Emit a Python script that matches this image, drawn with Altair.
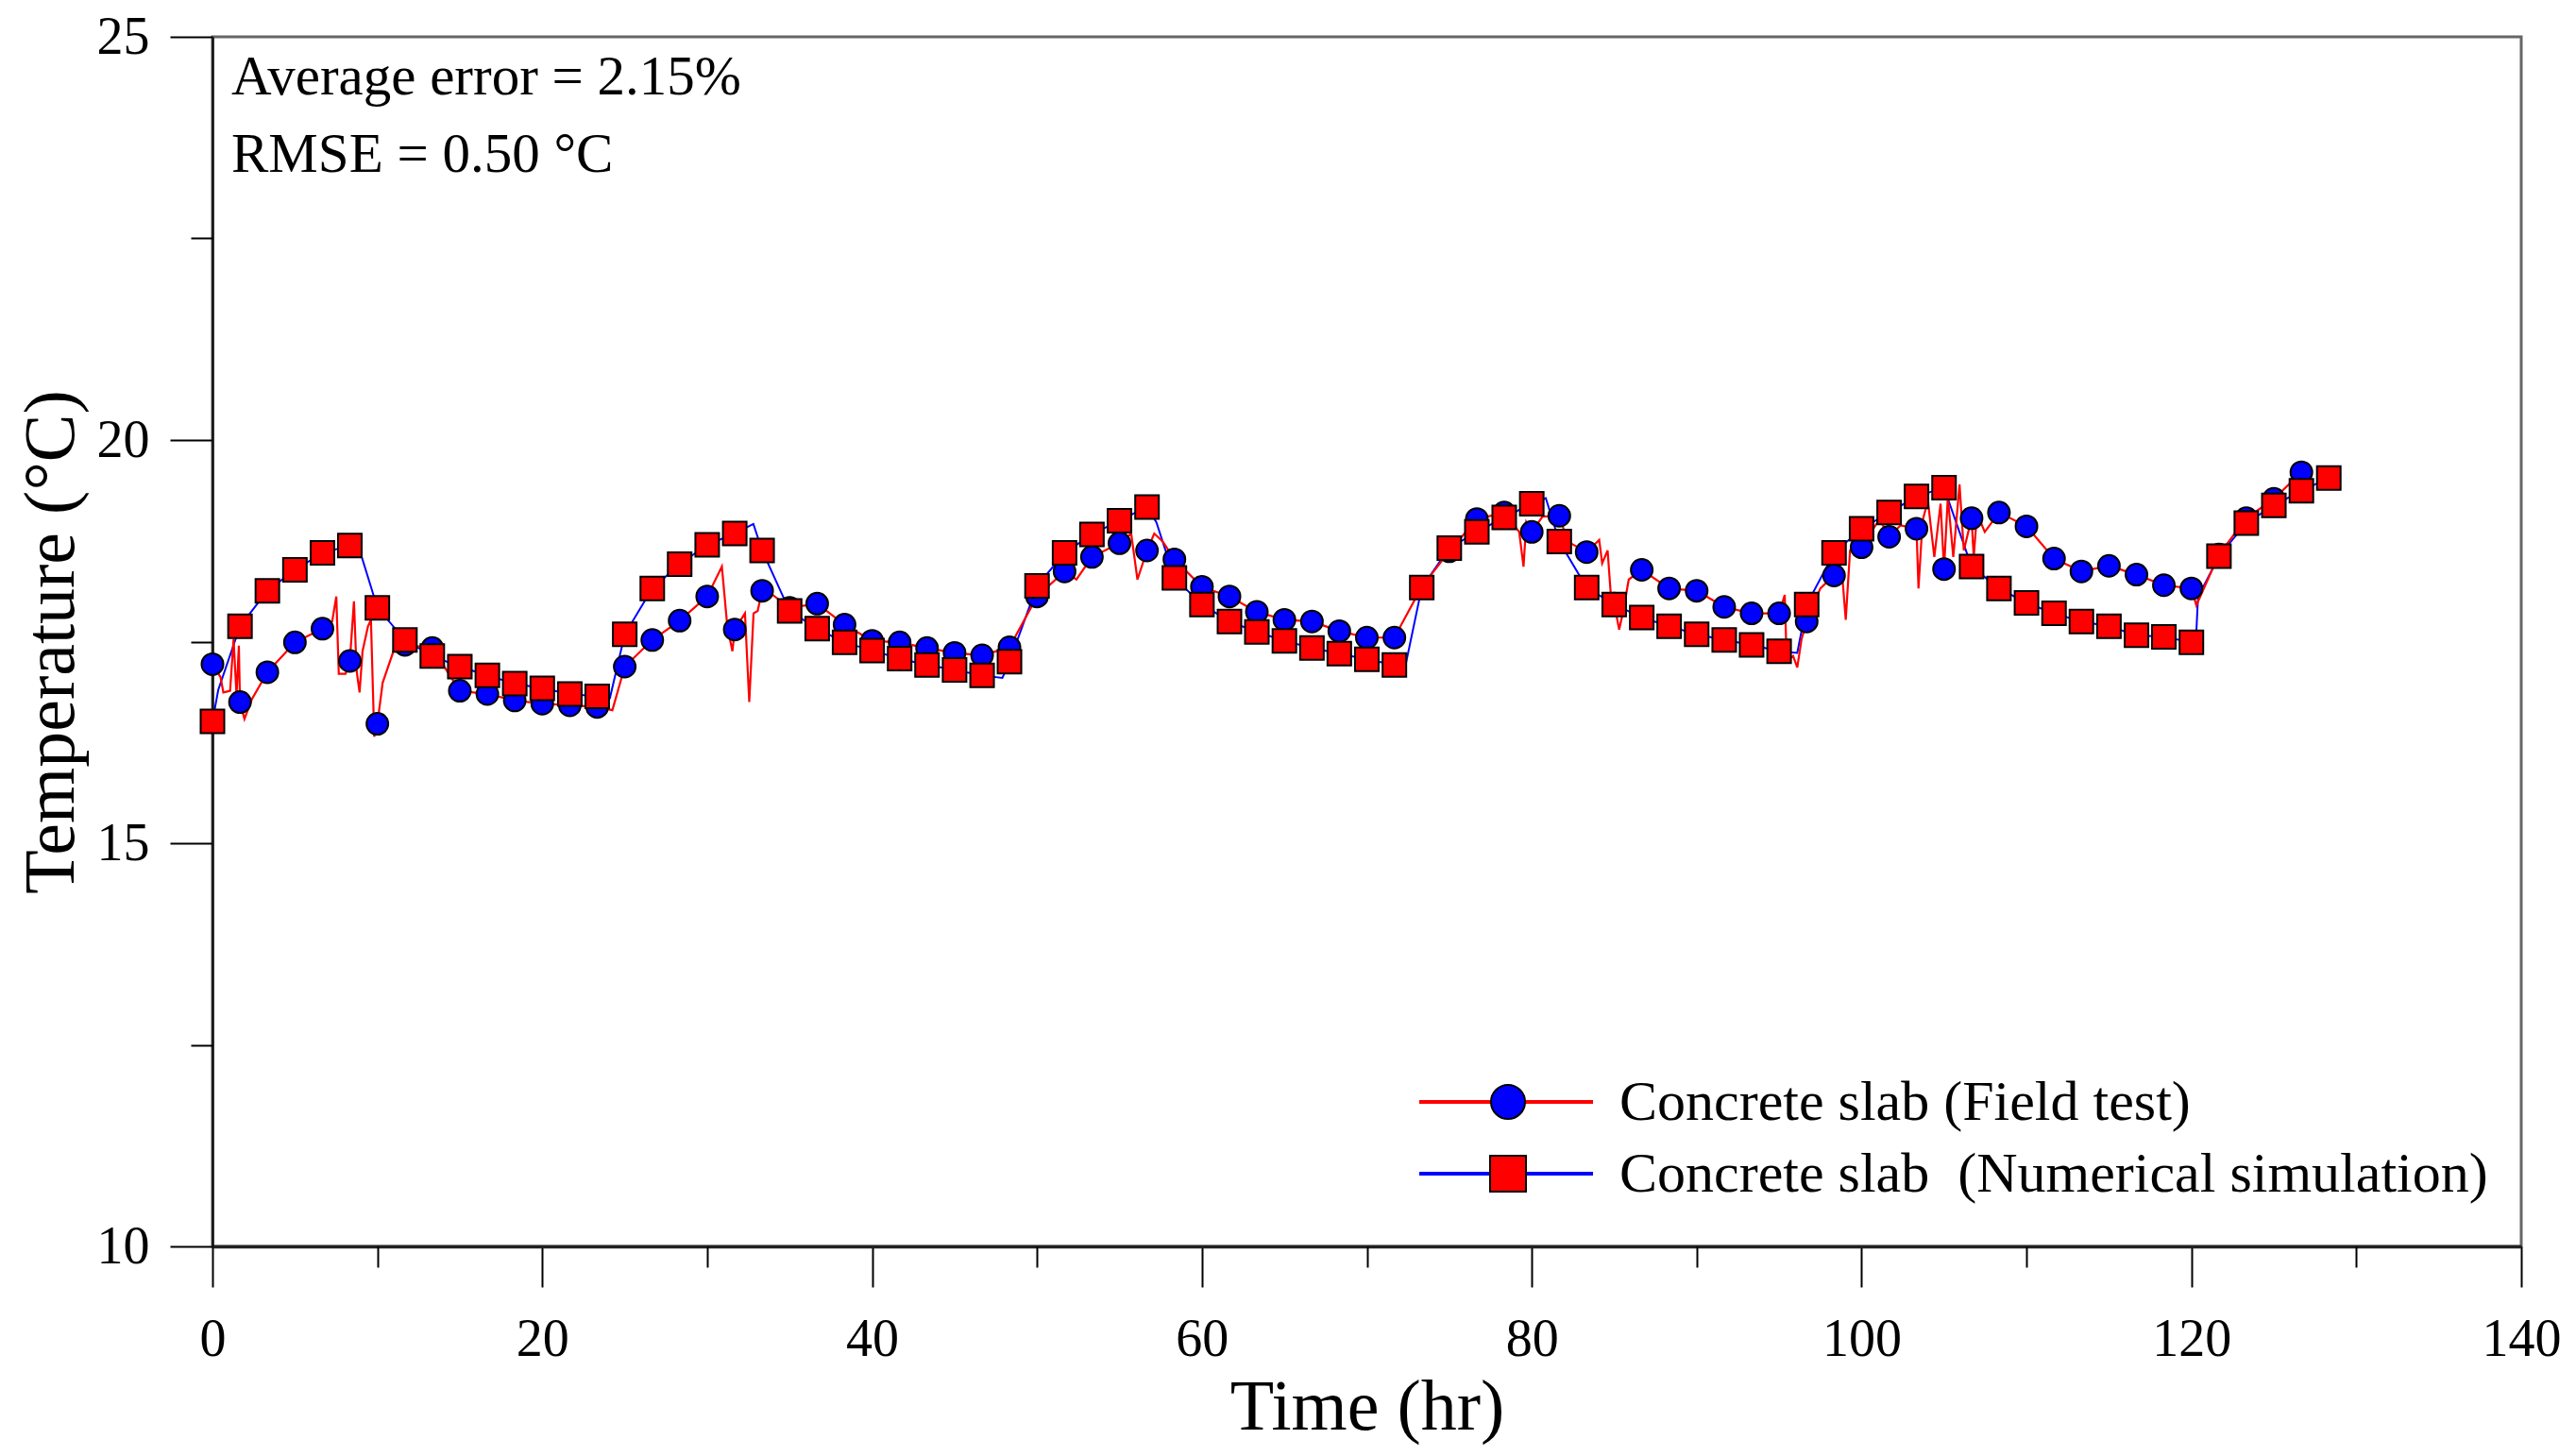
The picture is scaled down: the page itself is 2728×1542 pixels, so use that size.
import altair as alt
import pandas as pd

# ---------------- data ----------------
marker_t = [0.0, 1.67, 3.33, 5.0, 6.67, 8.33, 10.0, 11.67, 13.33, 15.0,
            16.67, 18.33, 20.0, 21.67, 23.33, 25.0, 26.67, 28.33, 30.0, 31.67,
            33.33, 35.0, 36.67, 38.33, 40.0, 41.67, 43.33, 45.0, 46.67, 48.33,
            50.0, 51.67, 53.33, 55.0, 56.67, 58.33, 60.0, 61.67, 63.33, 65.0,
            66.67, 68.33, 70.0, 71.67, 73.33, 75.0, 76.67, 78.33, 80.0, 81.67,
            83.33, 85.0, 86.67, 88.33, 90.0, 91.67, 93.33, 95.0, 96.67, 98.33,
            100.0, 101.67, 103.33, 105.0, 106.67, 108.33, 110.0, 111.67, 113.33, 115.0,
            116.67, 118.33, 120.0, 121.67, 123.33, 125.0, 126.67, 128.33]

field_T = [17.22, 16.75, 17.12, 17.49, 17.66, 17.26, 16.48, 17.46, 17.42, 16.89,
           16.85, 16.77, 16.73, 16.71, 16.69, 17.19, 17.52, 17.76, 18.06, 17.65,
           18.13, 17.92, 17.97, 17.71, 17.51, 17.49, 17.42, 17.36, 17.33, 17.43,
           18.06, 18.37, 18.55, 18.72, 18.63, 18.52, 18.18, 18.06, 17.87, 17.77,
           17.75, 17.63, 17.55, 17.55, 18.18, 18.62, 19.02, 19.10, 18.86, 19.06,
           18.61, 17.97, 18.39, 18.16, 18.13, 17.93, 17.85, 17.85, 17.75, 18.32,
           18.67, 18.80, 18.90, 18.40, 19.03, 19.10, 18.93, 18.53, 18.37, 18.44,
           18.33, 18.20, 18.16, 18.58, 19.03, 19.27, 19.60]

num_T = [16.51, 17.69, 18.13, 18.39, 18.60, 18.69, 17.92, 17.52, 17.32, 17.19,
         17.08, 16.98, 16.92, 16.85, 16.82, 17.59, 18.16, 18.46, 18.70, 18.84,
         18.63, 17.88, 17.66, 17.49, 17.39, 17.29, 17.21, 17.15, 17.08, 17.25,
         18.19, 18.60, 18.83, 19.00, 19.17, 18.29, 17.96, 17.75, 17.62, 17.51,
         17.42, 17.35, 17.28, 17.21, 18.17, 18.66, 18.86, 19.04, 19.21, 18.74,
         18.17, 17.96, 17.80, 17.69, 17.59, 17.52, 17.46, 17.38, 17.96, 18.60,
         18.90, 19.10, 19.30, 19.41, 18.43, 18.16, 17.98, 17.85, 17.75, 17.69,
         17.58, 17.56, 17.49, 18.56, 18.97, 19.19, 19.37, 19.53]

# extra vertices of the raw field-test record (red line) between markers
field_spike_t = [0.49, 0.66, 1.07, 1.28, 1.46, 1.60, 1.94, 2.40,
                 7.26, 7.51, 7.66, 8.07, 8.58, 8.74, 8.92, 9.10, 9.43, 9.61, 9.81, 10.32, 11.09,
                 24.25,
                 30.89, 31.22, 31.53, 32.29, 32.55, 32.81, 33.06, 33.96,
                 52.39,
                 55.71, 56.09, 57.11, 57.63,
                 79.24, 79.50, 79.67, 80.65, 82.18, 84.09, 84.27, 84.60, 84.78, 85.30, 85.55, 85.88,
                 95.34, 95.46, 95.85, 96.10, 96.36, 97.50, 98.80, 99.04, 99.30, 101.09, 102.36,
                 103.45, 103.70, 104.02, 104.41, 104.79, 105.23, 105.56, 105.94, 106.20, 106.80, 107.00, 107.47,
                 120.30, 127.00]
field_spike_T = [17.06, 16.87, 16.89, 17.53, 16.83, 17.45, 16.54, 16.79,
                 17.75, 18.06, 17.10, 17.10, 18.00, 17.14, 16.87, 17.38, 17.69, 17.77, 16.32, 16.99, 17.45,
                 16.65,
                 18.43, 17.69, 17.38, 17.85, 16.75, 17.85, 17.88, 18.08,
                 18.27,
                 18.84, 18.27, 18.84, 18.74,
                 18.86, 18.43, 18.98, 19.05, 18.74, 18.76, 18.47, 18.63, 18.12, 17.65, 17.88, 18.27,
                 18.08, 17.26, 17.32, 17.18, 17.53, 18.16, 18.39, 17.77, 18.63, 19.02, 18.94,
                 18.16, 19.00, 19.25, 18.55, 19.21, 19.29, 18.55, 19.45, 18.63, 18.55, 19.09, 18.86,
                 17.95, 19.25]

# extra vertices of the simulation curve (blue line)
num_extra_t = [0.35, 9.05, 24.10, 32.80, 47.90, 57.24, 72.32, 80.85, 96.10, 120.30, 120.40]
num_extra_T = [16.90, 18.55, 16.80, 18.96, 17.05, 18.98, 17.18, 19.28, 17.36, 17.62, 18.05]

x_major_ticks = [0, 20, 40, 60, 80, 100, 120, 140]
x_minor_ticks = [10, 30, 50, 70, 90, 110, 130]
y_major_ticks = [10, 15, 20, 25]
y_minor_ticks = [12.5, 17.5, 22.5]

label_field = "Concrete slab (Field test)"
label_num = "Concrete slab\u00a0 (Numerical simulation)"
note_1 = "Average error = 2.15%"
note_2 = "RMSE = 0.50 \u00b0C"

# ---------------- tables ----------------
circles = pd.DataFrame({"t": marker_t[:len(field_T)], "T": field_T})
squares = pd.DataFrame({"t": marker_t, "T": num_T})
red = pd.DataFrame({"t": marker_t[:len(field_T)] + field_spike_t,
                    "T": field_T + field_spike_T}).sort_values("t")
blue = pd.DataFrame({"t": marker_t + num_extra_t,
                     "T": num_T + num_extra_T}).sort_values("t")
one = pd.DataFrame({"k": [0]})

# ---------------- layout ----------------
W, H = 2445, 1281
FONT = "Liberation Serif"
RED = "#FF0000"
BLUE = "#0000FF"

xs = alt.Scale(domain=[0, 140], nice=False, zero=False)
ys = alt.Scale(domain=[10, 25], nice=False, zero=False)

x_major = alt.Axis(values=x_major_ticks, orient="bottom", title="Time (hr)", format="d",
                   tickSize=43, tickWidth=2, labelPadding=28, labelFontSize=56, labelFlush=False,
                   titleFontSize=76, titleBaseline="alphabetic", titleY=193,
                   domainWidth=3.5, domainColor="#222222", grid=False)
y_major = alt.Axis(values=y_major_ticks, orient="left", title="Temperature (\u00b0C)", format="d",
                   tickSize=45, tickWidth=2, labelPadding=22, labelFontSize=56, labelFlush=False,
                   titleFontSize=76, titleAngle=270, titleBaseline="alphabetic",
                   titleAlign="center", titleX=-148, titleY=H / 2,
                   domainWidth=2.5, domainColor="#111111", grid=False)
x_minor = alt.Axis(values=x_minor_ticks, orient="bottom", labels=False, domain=False,
                   tickSize=22, tickWidth=2, title=None, grid=False)
y_minor = alt.Axis(values=y_minor_ticks, orient="left", labels=False, domain=False,
                   tickSize=23, tickWidth=2, title=None, grid=False)

blue_line = alt.Chart(blue).mark_line(color=BLUE, strokeWidth=2).encode(
    x=alt.X("t:Q", scale=xs, axis=x_major),
    y=alt.Y("T:Q", scale=ys, axis=y_major),
)
minor = alt.Chart(squares).mark_point(opacity=0).encode(
    x=alt.X("t:Q", scale=xs, axis=x_minor),
    y=alt.Y("T:Q", scale=ys, axis=y_minor),
)
red_line = alt.Chart(red).mark_line(color=RED, strokeWidth=2.2).encode(
    x=alt.X("t:Q", scale=xs, axis=None),
    y=alt.Y("T:Q", scale=ys, axis=None),
)
circ = alt.Chart(circles).mark_point(shape="circle", filled=True, fill=BLUE, stroke="black",
                                     strokeWidth=2, size=529, opacity=1).encode(
    x=alt.X("t:Q", scale=xs, axis=None),
    y=alt.Y("T:Q", scale=ys, axis=None),
)
sq = alt.Chart(squares).mark_point(shape="square", filled=True, fill=RED, stroke="black",
                                   strokeWidth=2, size=625, opacity=1).encode(
    x=alt.X("t:Q", scale=xs, axis=None),
    y=alt.Y("T:Q", scale=ys, axis=None),
)

# annotations
txt_style = dict(font=FONT, fontSize=59, color="black", align="left", baseline="alphabetic")
note1 = alt.Chart(one).mark_text(**txt_style, text=note_1).encode(x=alt.value(20), y=alt.value(61))
note2 = alt.Chart(one).mark_text(**txt_style, text=note_2).encode(x=alt.value(20), y=alt.value(143))

# legend
LX1, LX2, LM, LT = 1278, 1462, 1372, 1490
R1, R2 = 1128, 1204
leg_line1 = alt.Chart(one).mark_rule(color=RED, strokeWidth=4).encode(
    x=alt.value(LX1), x2=alt.value(LX2), y=alt.value(R1))
leg_line2 = alt.Chart(one).mark_rule(color=BLUE, strokeWidth=4).encode(
    x=alt.value(LX1), x2=alt.value(LX2), y=alt.value(R2))
leg_m1 = alt.Chart(one).mark_point(shape="circle", filled=True, fill=BLUE, stroke="black",
                                   strokeWidth=2, size=1300, opacity=1).encode(
    x=alt.value(LM), y=alt.value(R1))
leg_m2 = alt.Chart(one).mark_point(shape="square", filled=True, fill=RED, stroke="black",
                                   strokeWidth=2, size=1444, opacity=1).encode(
    x=alt.value(LM), y=alt.value(R2))
leg_style = dict(font=FONT, fontSize=60, color="black", align="left", baseline="alphabetic")
leg_t1 = alt.Chart(one).mark_text(**leg_style, text=label_field).encode(
    x=alt.value(LT), y=alt.value(R1 + 19))
leg_t2 = alt.Chart(one).mark_text(**leg_style, text=label_num).encode(
    x=alt.value(LT), y=alt.value(R2 + 19))

chart = alt.layer(
    blue_line, minor, red_line, circ, sq,
    note1, note2, leg_line1, leg_line2, leg_m1, leg_m2, leg_t1, leg_t2,
).resolve_axis(x="independent", y="independent").properties(
    width=W, height=H,
    padding={"left": 217, "top": 31, "right": 50, "bottom": 214},
    autosize=alt.AutoSizeParams(type="none"),
    background="white",
).configure_view(
    stroke="#666666", strokeWidth=3,
).configure_axis(
    labelFont=FONT, titleFont=FONT, labelColor="black", titleColor="black",
    tickColor="black", titleFontWeight="normal",
)

chart.save("out.html", embed_options={"renderer": "svg", "actions": False})
